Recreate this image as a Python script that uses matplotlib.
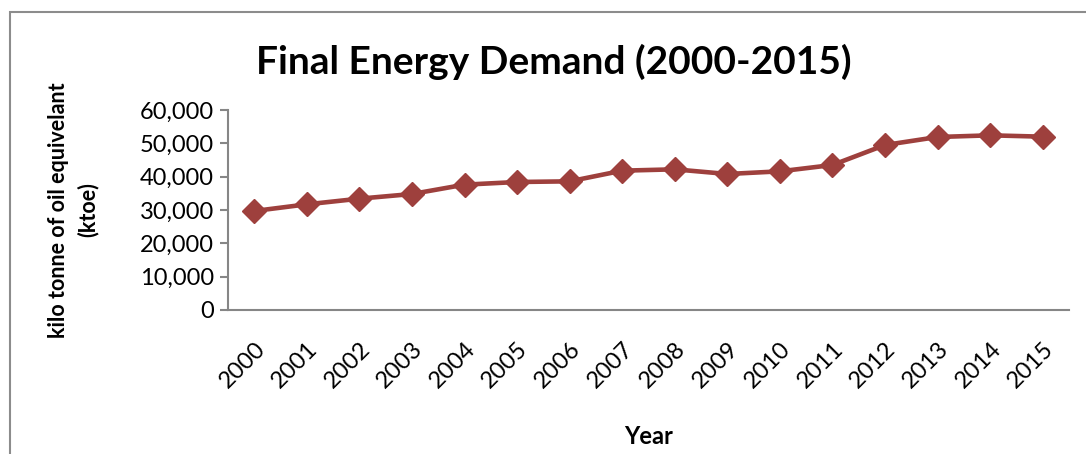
import matplotlib.pyplot as plt
from matplotlib.patches import Rectangle
from matplotlib.ticker import FuncFormatter

years = ['2000', '2001', '2002', '2003', '2004', '2005', '2006', '2007',
         '2008', '2009', '2010', '2011', '2012', '2013', '2014', '2015']
demand = [29700, 31700, 33400, 34800, 37600, 38400, 38600, 41800,
          42200, 40800, 41600, 43500, 49500, 51900, 52400, 52000]

plt.rcParams['font.family'] = ['Lato', 'DejaVu Sans']

fig = plt.figure(figsize=(10.86, 4.54), dpi=100)
# outer chart frame (runs off the right and bottom of the picture)
fig.patches.append(Rectangle((10 / 1086, -0.1), 1.2, 1 - 12 / 454 + 0.1,
                             transform=fig.transFigure, fill=False,
                             edgecolor='#8c8c8c', linewidth=1.5))

ax = fig.add_axes([228 / 1086, 1 - 310 / 454, (1069 - 228) / 1086, 200 / 454])
x = range(len(years))
ax.plot(x, demand, color='#9E403D', linewidth=3.3, marker='D', markersize=12,
        markeredgecolor='#9E403D')

ax.set_xlim(-0.5, len(years) - 0.5)
ax.set_ylim(0, 60000)
ax.set_yticks(range(0, 60001, 10000))
ax.yaxis.set_major_formatter(FuncFormatter(lambda v, p: f"{int(v):,}"))
ax.set_xticks(list(x))
ax.set_xticklabels(years, rotation=45, ha='right', rotation_mode='anchor')

for side in ['top', 'right']:
    ax.spines[side].set_visible(False)
for side in ['left', 'bottom']:
    ax.spines[side].set_color('#868686')
    ax.spines[side].set_linewidth(1.5)
ax.tick_params(axis='y', length=6, color='#868686', width=1.5, labelsize=17, pad=4)
ax.tick_params(axis='x', length=0, labelsize=17, pad=20)

ax.set_xlabel('Year', fontsize=17, fontweight='bold', labelpad=24)
ax.set_ylabel('kilo tonne of oil equivelant\n(ktoe)', fontsize=15.5,
              fontweight='bold', labelpad=30, linespacing=1.45)
fig.text(0.51, 1 - 62 / 454, 'Final Energy Demand (2000-2015)', ha='center',
         va='center', fontsize=28, fontweight='bold')

fig.savefig('out.png', dpi=100)
